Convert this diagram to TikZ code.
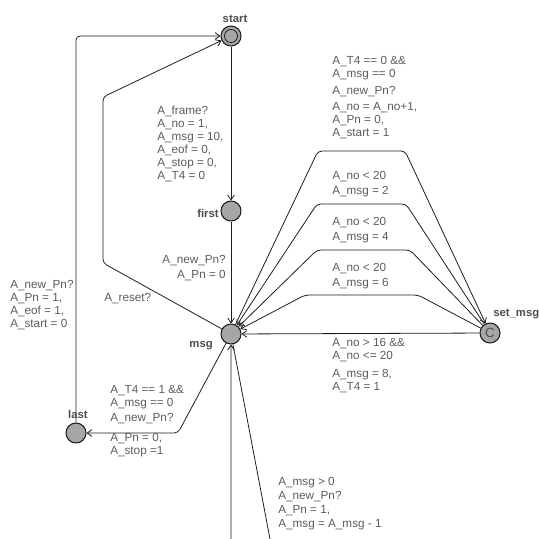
\documentclass[tikz,border=0pt]{standalone}
\usepackage{fontspec}
\setmainfont{Liberation Sans}
\usetikzlibrary{arrows.meta}
\definecolor{locfill}{HTML}{A6A6A6}
\definecolor{lblgray}{HTML}{5C5C5C}
\definecolor{namegray}{HTML}{4D4D4D}
\definecolor{edgeblack}{HTML}{1E1E1E}

\begin{document}
\begin{tikzpicture}[x=0.75pt,y=-0.75pt,>={Straight Barb[length=3.5pt,width=5pt]},
  loc/.style={circle,draw=edgeblack,fill=locfill,line width=0.8pt,minimum size=15pt,inner sep=0pt},
  lbl/.style={font=\fontsize{8.8}{9.75}\selectfont,text=lblgray,inner sep=0pt,anchor=north west,align=left},
  locname/.style={font=\fontsize{8.5}{10}\selectfont\bfseries,text=namegray,inner sep=0pt},
  edge/.style={draw=edgeblack,line width=0.6pt,rounded corners=3pt,->}]
\useasboundingbox (0,0) rectangle (539,539);
\clip (0,0) rectangle (539,539);
\node[loc] (start) at (231,36) {};
\draw[edgeblack,line width=0.6pt] (start.center) circle[radius=4.9pt];
\node[loc] (first) at (231,211) {};
\node[loc] (msg) at (231,334) {};
\node[loc] (last) at (76,433) {};
\node[loc,font=\fontsize{10}{10}\selectfont,text=namegray] (setmsg) at (490,333) {C};
\draw[edge] (start) -- (first);
\draw[edge] (first) -- (msg);
\draw[edge] (msg) -- (103,263) -- (103,97) -- (start);
\draw[edge] (last) |- (start);
\draw[edge] (msg) -- (178,433) -- (last);
\draw[edge] (msg) -- (274,560) -- (231,560) -- (msg);
\draw[edge] (msg) -- (318,151) -- (405,151) -- (setmsg);
\foreach \yc/\xl/\xr in {204/317/406,250/317/410,295/305/418}
  \draw[edge] (setmsg) -- (\xr,\yc) -- (\xl,\yc) -- (msg);
\draw[edge] (setmsg) -- (msg);
\node[locname,anchor=base] (nstart) at (235,22) {start};
\node[locname,anchor=base east] (nfirst) at (219,217) {first};
\node[locname,anchor=base east] (nmsg) at (213,347) {msg};
\node[locname,anchor=base] (nlast) at (78,418) {last};
\node[locname,anchor=base west] (nsetmsg) at (493,316) {set\_msg};
\node[lbl] (lframe) at (157,106) {A\_frame?\\A\_no = 1,\\A\_msg = 10,\\A\_eof = 0,\\A\_stop = 0,\\A\_T4 = 0};
\node[lbl,anchor=north east,align=right] (lnewpn) at (226,255) {A\_new\_Pn?\\[1.5pt]A\_Pn = 0};
\node[lbl] (lreset) at (104,293) {A\_reset?};
\node[lbl] (lrestart) at (10,280) {A\_new\_Pn?\\A\_Pn = 1,\\A\_eof = 1,\\A\_start = 0};
\node[lbl] (ltolast) at (110,385) {A\_T4 == 1 \&\&\\A\_msg == 0\\[1.5pt]A\_new\_Pn?};
\node[lbl] (lstop) at (110,433) {A\_Pn = 0,\\A\_stop =1};
\node[lbl] (lnext) at (332,56) {A\_T4 == 0 \&\&\\A\_msg == 0\\[3pt]A\_new\_Pn?\\[2pt]A\_no = A\_no+1,\\A\_Pn = 0,\\A\_start = 1};
\foreach \yl/\v in {171/2,217/4,263/6}
  \node[lbl] (lmsg\v) at (332,\yl) {A\_no < 20\\[1.5pt]A\_msg = \v};
\node[lbl] (lmsgeight) at (332,338) {A\_no > 16 \&\&\\A\_no <= 20\\[3.5pt]A\_msg = 8,\\A\_T4 = 1};
\node[lbl] (ldec) at (278,477) {A\_msg > 0\\[0.8pt]A\_new\_Pn?\\[0.8pt]A\_Pn = 1,\\[0.8pt]A\_msg = A\_msg - 1};
\end{tikzpicture}
\end{document}
